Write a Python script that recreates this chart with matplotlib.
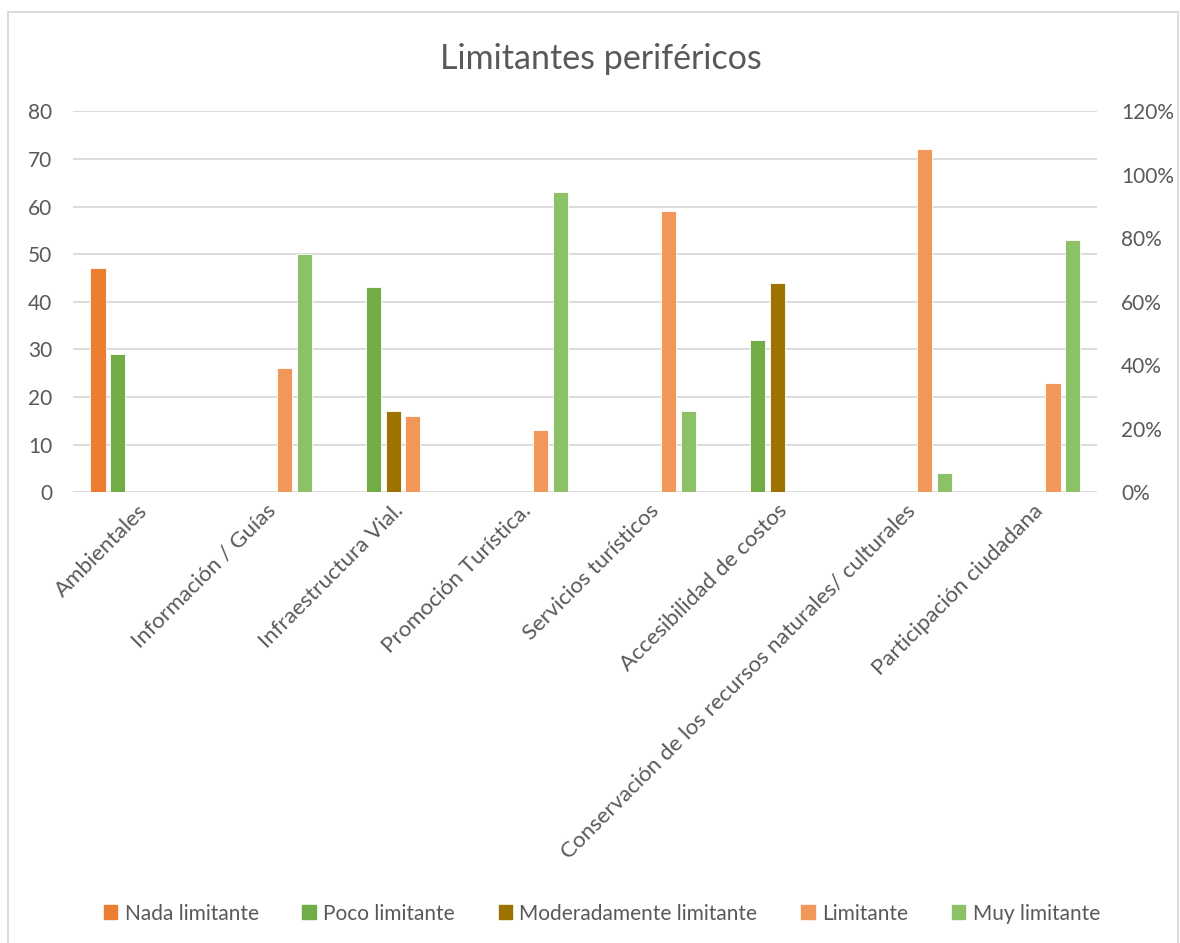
import matplotlib.pyplot as plt
import matplotlib.patches as mpatches
from matplotlib.ticker import FuncFormatter
import numpy as np

plt.rcParams['font.family'] = ['Lato', 'DejaVu Sans']

categories = ['Ambientales', 'Información / Guías', 'Infraestructura Vial.',
              'Promoción Turística.', 'Servicios turísticos', 'Accesibilidad de costos',
              'Conservación de los recursos naturales/ culturales', 'Participación ciudadana']
series = ['Nada limitante', 'Poco limitante', 'Moderadamente limitante', 'Limitante', 'Muy limitante']
nada = [47, 0, 0, 0, 0, 0, 0, 0]
poco = [29, 0, 43, 0, 0, 32, 0, 0]
moderado = [0, 0, 17, 0, 0, 44, 0, 0]
limitante = [0, 26, 16, 13, 59, 0, 72, 23]
muy = [0, 50, 0, 63, 17, 0, 4, 53]
values = [nada, poco, moderado, limitante, muy]
colors = ['#ED7D31', '#70AD47', '#9C7300', '#F1975A', '#8CC168']

text_color = '#595959'
fig = plt.figure(figsize=(11.8, 9.43), dpi=100)
ax = fig.add_axes([0.062, 0.478, 0.868, 0.404])

x = np.arange(len(categories))
step = 0.153
width = 0.118
for i, (vals, c) in enumerate(zip(values, colors)):
    ax.bar(x + (i - 2) * step, vals, width, color=c, edgecolor='white', linewidth=0.6,
           label=series[i], zorder=3)

ax.set_xlim(-0.5, len(categories) - 0.5)
ax.set_ylim(0, 80)
ax.set_yticks(range(0, 81, 10))
ax.grid(axis='y', color='#D9D9D9', linewidth=1.3, zorder=0)
for s in ax.spines.values():
    s.set_visible(False)
ax.tick_params(length=0, labelsize=15, labelcolor=text_color)
ax.tick_params(axis='y', pad=15)
ax.set_xticks(x)
ax.set_xticklabels(categories, rotation=45, ha='right', rotation_mode='anchor', fontsize=16)
ax.tick_params(axis='x', pad=6)

ax2 = ax.twinx()
ax2.set_ylim(0, 1.2)
ax2.set_yticks(np.arange(0, 1.21, 0.2))
ax2.yaxis.set_major_formatter(FuncFormatter(lambda v, p: f'{v * 100:.0f}%'))
for s in ax2.spines.values():
    s.set_visible(False)
ax2.tick_params(length=0, labelsize=15, labelcolor=text_color, pad=17)

fig.text(0.509, 0.937, 'Limitantes periféricos', ha='center', va='center',
         fontsize=24.5, color=text_color)

handles = [mpatches.Patch(color=c, label=s) for s, c in zip(series, colors)]
fig.legend(handles=handles, loc='center', bbox_to_anchor=(0.51, 0.031), ncol=5,
           frameon=False, fontsize=15, labelcolor=text_color, handlelength=0.65,
           handleheight=0.65, handletextpad=0.35, columnspacing=2.1)

border = mpatches.Rectangle((8 / 1180, -0.01), 1170 / 1180, 1 - 12 / 943 + 0.01,
                            transform=fig.transFigure, fill=False,
                            edgecolor='#D9D9D9', linewidth=1.3)
fig.patches.append(border)

fig.savefig('out.png', dpi=100)
